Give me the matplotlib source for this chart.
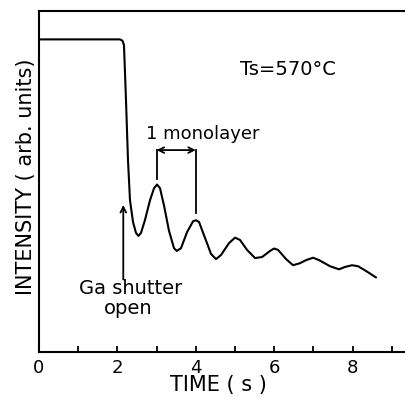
import numpy as np
import matplotlib
matplotlib.use("Agg")
import matplotlib.pyplot as plt

plt.rcParams['font.family'] = ['DejaVu Sans']

# RHEED specular intensity after opening the Ga shutter (arb. units, 0-10 scale)
time_s = [0.0, 2.066, 2.13, 2.168, 2.219, 2.270, 2.321, 2.398, 2.474, 2.538,
          2.602, 2.704, 2.832, 2.934, 3.010, 3.087, 3.189, 3.316, 3.444, 3.515,
          3.622, 3.776, 3.929, 4.005, 4.082, 4.235, 4.388, 4.515, 4.643, 4.847,
          5.0, 5.128, 5.306, 5.510, 5.689, 5.893, 5.995, 6.097, 6.301, 6.480,
          6.658, 6.811, 6.990, 7.143, 7.423, 7.653, 7.806, 7.985, 8.138, 8.342,
          8.597]
intensity = [9.17, 9.17, 9.13, 9.0, 7.39, 5.63, 4.45, 3.81, 3.49, 3.40,
             3.49, 3.87, 4.45, 4.80, 4.91, 4.80, 4.29, 3.55, 3.04, 2.96,
             3.04, 3.51, 3.83, 3.86, 3.81, 3.34, 2.87, 2.72, 2.84, 3.19,
             3.35, 3.28, 2.99, 2.75, 2.78, 2.96, 3.03, 2.99, 2.72, 2.54,
             2.60, 2.69, 2.76, 2.69, 2.51, 2.42, 2.49, 2.54, 2.51, 2.37,
             2.18]

tick_pos = list(range(0, 10))
tick_labels = ['0', '', '2', '', '4', '', '6', '', '8', '']

fig = plt.figure(figsize=(4.06, 3.97), dpi=100)
ax = fig.add_axes([0.096, 0.114, 0.904, 0.858])

ax.plot(time_s, intensity, color='black', lw=1.5,
        solid_joinstyle='round', solid_capstyle='round')

ax.set_xlim(0, 9.36)
ax.set_ylim(0, 10)
ax.spines['right'].set_visible(False)
for s in ['left', 'top', 'bottom']:
    ax.spines[s].set_linewidth(1.5)

ax.set_xticks(tick_pos)
ax.set_xticklabels(tick_labels)
ax.tick_params(axis='x', direction='in', length=4.5, width=1.3,
               labelsize=13, pad=5)
ax.set_yticks([])

ax.set_xlabel('TIME ( s )', fontsize=15, va='bottom')
ax.xaxis.set_label_coords(0.488, -0.128)
ax.set_ylabel('INTENSITY ( arb. units)', fontsize=15)
ax.yaxis.set_label_coords(-0.008, 0.513)

ax.text(6.36, 8.28, 'Ts=570°C', fontsize=14, ha='center', va='center')

# one monolayer period between the first two maxima
ax.text(4.18, 6.38, '1 monolayer', fontsize=13, ha='center', va='center')
ax.annotate('', xy=(3.0, 5.92), xytext=(4.0, 5.92),
            arrowprops=dict(arrowstyle='<->', color='black', lw=1.3,
                            shrinkA=0, shrinkB=0))
ax.plot([3.0, 3.0], [5.92, 5.07], color='black', lw=1.3)
ax.plot([4.0, 4.0], [5.92, 4.07], color='black', lw=1.3)

ax.annotate('', xy=(2.15, 4.31), xytext=(2.15, 2.12),
            arrowprops=dict(arrowstyle='->', color='black', lw=1.3,
                            shrinkA=0, shrinkB=0))
ax.text(2.33, 1.87, 'Ga shutter', fontsize=14, ha='center', va='center')
ax.text(2.28, 1.28, 'open', fontsize=14, ha='center', va='center')

fig.savefig('out.png', dpi=100)
